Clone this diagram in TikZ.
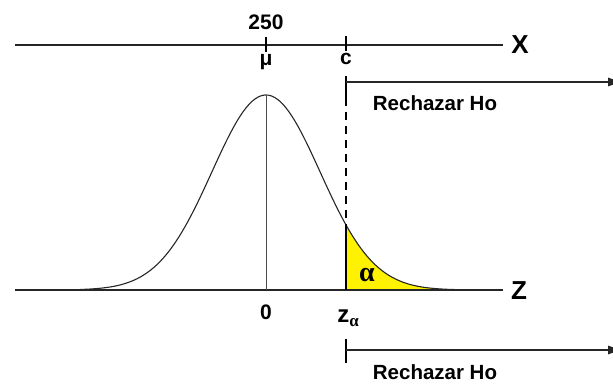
\documentclass[tikz,border=0pt]{standalone}
\usepackage{fontspec}
\setmainfont{Liberation Sans}
\newfontfamily\serifbold{Liberation Serif}
\usetikzlibrary{arrows.meta}
\begin{document}
\begin{tikzpicture}[x=1pt,y=-1pt,
  axis/.style={line width=1.3pt,black!85},
  lbl/.style={font=\bfseries\fontsize{21}{23}\selectfont,inner sep=0pt},
  big/.style={font=\bfseries\fontsize{26}{28}\selectfont,inner sep=0pt},
  rej/.style={font=\bfseries\fontsize{20.5}{22}\selectfont,inner sep=0pt},
  thin/.style={line width=0.4pt,black!70},
  rarrow/.style={line width=1.1pt,black!85,-{Latex[length=16pt,width=9pt]}}]
\useasboundingbox (0,0) rectangle (613,385);
% shaded tail
\fill[yellow] (346,290) -- plot[domain=346:460,samples=60,smooth] (\x,{290-195*exp(-((\x-266)/54)^2/2)}) -- (460,290) -- cycle;
% curve
\draw[line width=1.1pt,black!85] plot[domain=80:460,samples=120,smooth] (\x,{290-195*exp(-((\x-266)/54)^2/2)});
% axes
\coordinate (xl) at (15,45);
\coordinate (xr) at (503,45);
\coordinate (zl) at (15,290);
\coordinate (zr) at (503,290);
\draw[axis] (xl) -- (xr);
\draw[axis] (zl) -- (zr);
\node[big] (X) at (520,45) {X};
\node[big] (Z) at (519,291) {Z};
% ticks on X axis
\coordinate (mut) at (266,37);
\coordinate (mub) at (266,52);
\coordinate (ct) at (346,36);
\coordinate (cb) at (346,51);
\draw[line width=1.8pt] (mut) -- (mub);
\draw[line width=1.8pt] (ct) -- (cb);
\node[lbl] (n250) at (266,22) {250};
\node[lbl] (mu) at (266,62) {μ};
\node[lbl] (c) at (346,59) {c};
% center line
\coordinate (peak) at (266,95);
\coordinate (zero) at (266,290);
\draw[thin] (peak) -- (zero);
\node[lbl] (n0) at (266,312) {0};
\node[font=\bfseries\fontsize{24}{24}\selectfont,inner sep=0pt] (za) at (348,318) {z\raisebox{-4pt}{\serifbold\bfseries\fontsize{17}{17}\selectfont α}};
% critical line
\coordinate (c1) at (346,76);
\coordinate (c2) at (346,98);
\coordinate (c3) at (346,224);
\coordinate (c4) at (346,290);
\draw[line width=1.3pt] (c1) -- (c2);
\draw[line width=1.5pt,dash pattern=on 8pt off 6pt] (c2) -- (c3);
\draw[line width=1.3pt] (c3) -- (c4);
\node[font=\serifbold\bfseries\fontsize{28}{28}\selectfont,inner sep=0pt] (alpha) at (367,275) {α};
% upper rejection bracket
\coordinate (u0) at (346,82);
\coordinate (u1) at (624,82);
\draw[rarrow] (u0) -- (u1);
\node[rej] (r1) at (435,103) {Rechazar Ho};
% lower rejection bracket
\coordinate (l0) at (346,350);
\coordinate (l1) at (624,350);
\coordinate (lt) at (346,339);
\coordinate (lb) at (346,363);
\draw[line width=1.3pt] (lt) -- (lb);
\draw[rarrow] (l0) -- (l1);
\node[rej] (r2) at (435,372) {Rechazar Ho};
\end{tikzpicture}
\end{document}
